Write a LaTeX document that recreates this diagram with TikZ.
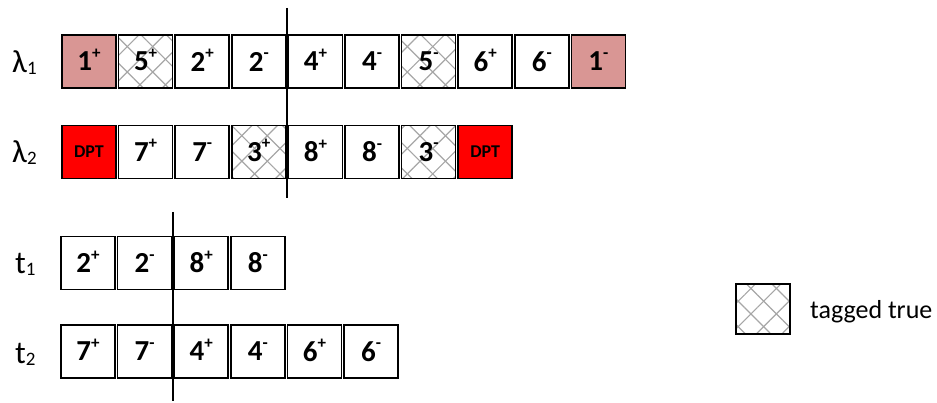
\documentclass[tikz,border=0pt]{standalone}
\usepackage{fontspec}
\setmainfont{Carlito}
\usetikzlibrary{patterns.meta}
\definecolor{pinkc}{HTML}{D99694}
\definecolor{hatchc}{HTML}{A6A6A6}
\newcommand\cv[2]{#1\smash{\raisebox{12.5pt}{\fontsize{17}{17}\selectfont #2}}}
\newcommand\lab[2]{#1\raisebox{-2pt}{\fontsize{19}{19}\selectfont #2}}
\tikzset{
 cell/.style={draw=black, line width=1.6pt, minimum width=54pt, minimum height=53pt, inner sep=0pt, font=\fontsize{29}{29}\selectfont\bfseries},
 pinkcell/.style={cell, fill=pinkc},
 redcell/.style={cell, fill=red, font=\fontsize{18}{18}\selectfont\bfseries},
 hatched/.style={cell,
   postaction={pattern={Lines[angle=45,distance=18pt,line width=1.2pt]}, pattern color=hatchc},
   postaction={pattern={Lines[angle=-45,distance=18pt,line width=1.2pt]}, pattern color=hatchc},
   postaction={draw=black, line width=1.6pt}},
 lbl/.style={anchor=base west, inner sep=0pt, font=\fontsize{32}{32}\selectfont},
 divider/.style={line width=1.6pt}
}
\begin{document}
\begin{tikzpicture}[x=1pt,y=-1pt]
\useasboundingbox (0,0) rectangle (937,403);
% row lambda1
\def\px{56.6}
\node[pinkcell] (a1) at (89,61.5) {\cv{1}{+}};
\node[hatched]  (a2) at (89+\px,61.5) {\cv{5}{+}};
\node[cell]     (a3) at (89+2*\px,61.5) {\cv{2}{+}};
\node[cell]     (a4) at (89+3*\px,61.5) {\cv{2}{-}};
\node[cell]     (a5) at (89+4*\px,61.5) {\cv{4}{+}};
\node[cell]     (a6) at (89+5*\px,61.5) {\cv{4}{-}};
\node[hatched]  (a7) at (89+6*\px,61.5) {\cv{5}{-}};
\node[cell]     (a8) at (89+7*\px,61.5) {\cv{6}{+}};
\node[cell]     (a9) at (89+8*\px,61.5) {\cv{6}{-}};
\node[pinkcell] (a10) at (89+9*\px,61.5) {\cv{1}{-}};
% row lambda2
\node[redcell]  (b1) at (89,152) {DPT};
\node[cell]     (b2) at (89+\px,152) {\cv{7}{+}};
\node[cell]     (b3) at (89+2*\px,152) {\cv{7}{-}};
\node[hatched]  (b4) at (89+3*\px,152) {\cv{3}{+}};
\node[cell]     (b5) at (89+4*\px,152) {\cv{8}{+}};
\node[cell]     (b6) at (89+5*\px,152) {\cv{8}{-}};
\node[hatched]  (b7) at (89+6*\px,152) {\cv{3}{-}};
\node[redcell]  (b8) at (89+7*\px,152) {DPT};
% row t1
\node[cell] (c1) at (88,263) {\cv{2}{+}};
\node[cell] (c2) at (88+\px,263) {\cv{2}{-}};
\node[cell] (c3) at (88+2*\px,263) {\cv{8}{+}};
\node[cell] (c4) at (88+3*\px,263) {\cv{8}{-}};
% row t2
\node[cell] (d1) at (88,351.5) {\cv{7}{+}};
\node[cell] (d2) at (88+\px,351.5) {\cv{7}{-}};
\node[cell] (d3) at (88+2*\px,351.5) {\cv{4}{+}};
\node[cell] (d4) at (88+3*\px,351.5) {\cv{4}{-}};
\node[cell] (d5) at (88+4*\px,351.5) {\cv{6}{+}};
\node[cell] (d6) at (88+5*\px,351.5) {\cv{6}{-}};
% labels
\node[lbl] (l1) at (12,73) {\lab{λ}{1}};
\node[lbl] (l2) at (12,163) {\lab{λ}{2}};
\node[lbl] (l3) at (15,274) {\lab{t}{1}};
\node[lbl] (l4) at (15,363) {\lab{t}{2}};
% dividers
\coordinate (v1t) at (287,8);
\coordinate (v1b) at (287,198);
\coordinate (v2t) at (173,212);
\coordinate (v2b) at (173,401);
\draw[divider] (v1t) -- (v1b);
\draw[divider] (v2t) -- (v2b);
% legend
\node[hatched, minimum height=50pt] (leg) at (763,309) {};
\node[anchor=base west, inner sep=0pt, font=\fontsize{26}{26}\selectfont] (legt) at (810,319) {tagged true};
\end{tikzpicture}
\end{document}
